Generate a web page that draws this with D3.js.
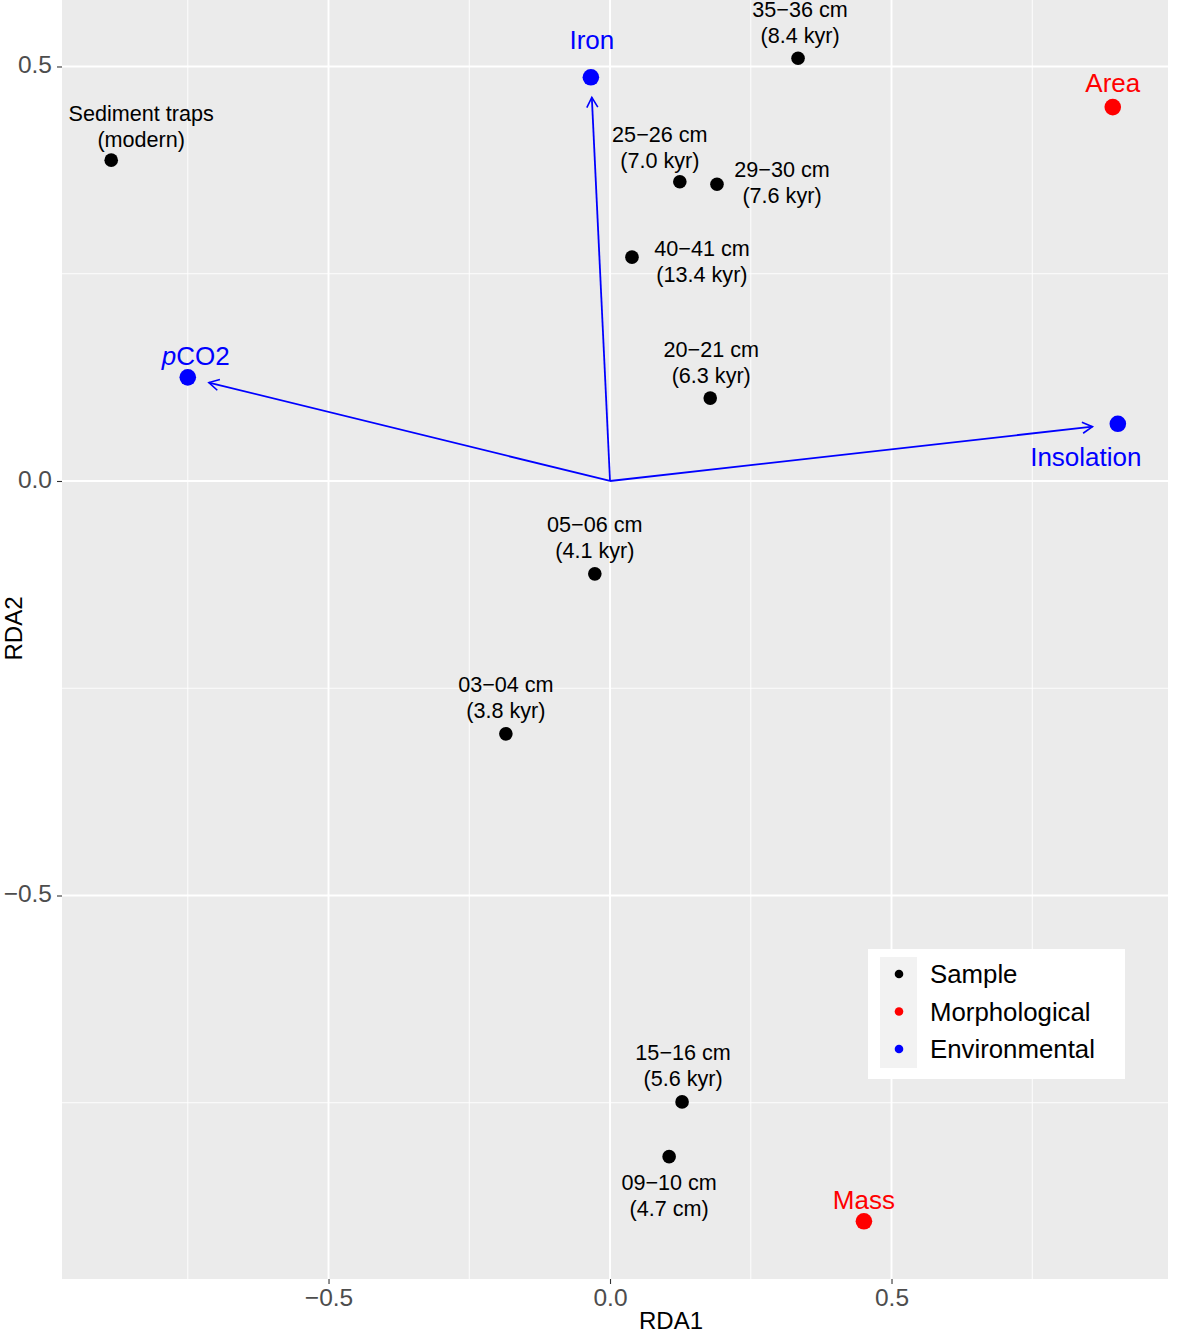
<!DOCTYPE html>
<html>
<head>
<meta charset="utf-8">
<script src="https://cdn.jsdelivr.net/npm/d3@7"></script>
<style>
  html, body { margin: 0; padding: 0; background: #fff; }
  svg { display: block; font-family: "Liberation Sans", Arial, sans-serif; }
</style>
</head>
<body>
<svg id="chart" width="1181" height="1336"></svg>
<script>
// ---------- data ----------
const sampleNames = ["Sediment traps\n(modern)", "35\u221236 cm\n(8.4 kyr)", "25\u221226 cm\n(7.0 kyr)", "29\u221230 cm\n(7.6 kyr)",
  "40\u221241 cm\n(13.4 kyr)", "20\u221221 cm\n(6.3 kyr)", "05\u221206 cm\n(4.1 kyr)", "03\u221204 cm\n(3.8 kyr)",
  "15\u221216 cm\n(5.6 kyr)", "09\u221210 cm\n(4.7 cm)"];
const sampleRDA1 = [-0.886, 0.334, 0.124, 0.190, 0.039, 0.178, -0.027, -0.185, 0.128, 0.105];
const sampleRDA2 = [0.387, 0.510, 0.361, 0.358, 0.270, 0.100, -0.112, -0.305, -0.749, -0.815];

const morphNames = ["Area", "Mass"];
const morphRDA1 = [0.893, 0.451];
const morphRDA2 = [0.451, -0.893];

const envNames = ["Iron", "pCO2", "Insolation"];
const envRDA1 = [-0.034, -0.750, 0.902];
const envRDA2 = [0.487, 0.125, 0.069];

const legendLabels = ["Sample", "Morphological", "Environmental"];
const xTicks = [-0.5, 0.0, 0.5];
const yTicks = [-0.5, 0.0, 0.5];
const xMinor = [-0.75, -0.25, 0.25, 0.75];
const yMinor = [-0.75, -0.25, 0.25];

// ---------- layout / style (not data) ----------
const panel = { left: 62, right: 1168, top: 0, bottom: 1279 };
const colors = { Sample: "#000000", Morphological: "#FF0000", Environmental: "#0000FF" };
const arrowShrink = 0.95;
// label offsets in pixels (center of first line relative to point)
const sampleLabelOffset = [[30,-47],[2,-49],[-20,-47],[65,-15],[70,-9],[1,-49],[0,-49],[0,-49],[1,-49],[0,26]];
const morphLabelOffset = [[0,-24],[0,-21]];
const envLabelOffset = [[1,-37],[8,-21],[-32,33]];

const svg = d3.select("#chart");
const x = d3.scaleLinear().domain([-0.9734, 0.9911]).range([panel.left, panel.right]);
const y = d3.scaleLinear().domain([-0.9626, 0.5802]).range([panel.bottom, panel.top]);

// panel background
svg.append("rect").attr("x", panel.left).attr("y", panel.top)
  .attr("width", panel.right - panel.left).attr("height", panel.bottom - panel.top)
  .attr("fill", "#EBEBEB");

const grid = svg.append("g");
grid.selectAll(".vmin").data(xMinor).join("line").attr("class","vmin")
  .attr("x1", d => x(d)).attr("x2", d => x(d)).attr("y1", panel.top).attr("y2", panel.bottom)
  .attr("stroke", "#fff").attr("stroke-width", 0.9);
grid.selectAll(".hmin").data(yMinor).join("line").attr("class","hmin")
  .attr("y1", d => y(d)).attr("y2", d => y(d)).attr("x1", panel.left).attr("x2", panel.right)
  .attr("stroke", "#fff").attr("stroke-width", 0.9);
grid.selectAll(".vmaj").data(xTicks).join("line").attr("class","vmaj")
  .attr("x1", d => x(d)).attr("x2", d => x(d)).attr("y1", panel.top).attr("y2", panel.bottom)
  .attr("stroke", "#fff").attr("stroke-width", 1.9);
grid.selectAll(".hmaj").data(yTicks).join("line").attr("class","hmaj")
  .attr("y1", d => y(d)).attr("y2", d => y(d)).attr("x1", panel.left).attr("x2", panel.right)
  .attr("stroke", "#fff").attr("stroke-width", 1.9);

const fmt = d => d3.format(".1f")(d).replace("-", "\u2212");

// axes
const xAxis = svg.append("g").attr("transform", `translate(0,${panel.bottom})`)
  .call(d3.axisBottom(x).tickValues(xTicks).tickSize(5).tickPadding(5).tickFormat(fmt));
xAxis.select(".domain").remove();
xAxis.selectAll("line").attr("stroke", "#333").attr("stroke-width", 1.1);
xAxis.selectAll("text").attr("fill", "#4D4D4D").attr("font-size", 24.5)
  .attr("font-family", "Liberation Sans, Arial, sans-serif");

const yAxis = svg.append("g").attr("transform", `translate(${panel.left},0)`)
  .call(d3.axisLeft(y).tickValues(yTicks).tickSize(5).tickPadding(5).tickFormat(fmt));
yAxis.select(".domain").remove();
yAxis.selectAll("line").attr("stroke", "#333").attr("stroke-width", 1.1);
yAxis.selectAll("text").attr("fill", "#4D4D4D").attr("font-size", 24.5)
  .attr("font-family", "Liberation Sans, Arial, sans-serif").attr("dy", "0.25em");

// axis titles
svg.append("text").attr("x", 671).attr("y", 1329).attr("text-anchor", "middle")
  .attr("font-size", 24).attr("fill", "#000").text("RDA1");
svg.append("text").attr("transform", `translate(22,${(panel.top + panel.bottom) / 2 - 11}) rotate(-90)`)
  .attr("text-anchor", "middle").attr("font-size", 24).attr("fill", "#000").text("RDA2");

// arrows
const defs = svg.append("defs");
defs.append("marker").attr("id", "arrowhead").attr("viewBox", "-12 -8 14 16")
  .attr("refX", 0).attr("refY", 0).attr("markerWidth", 14).attr("markerHeight", 16)
  .attr("markerUnits", "userSpaceOnUse").attr("orient", "auto")
  .append("path").attr("d", "M-10,-5.5 L0,0 L-10,5.5").attr("fill", "none")
  .attr("stroke", colors.Environmental).attr("stroke-width", 1.6);

const envData = envNames.map((n, i) => ({ name: n, x: envRDA1[i], y: envRDA2[i], off: envLabelOffset[i] }));
svg.append("g").selectAll("line").data(envData).join("line")
  .attr("x1", x(0)).attr("y1", y(0))
  .attr("x2", d => x(d.x * arrowShrink)).attr("y2", d => y(d.y * arrowShrink))
  .attr("stroke", colors.Environmental).attr("stroke-width", 1.8)
  .attr("marker-end", "url(#arrowhead)");

// sample points
const sampleData = sampleNames.map((n, i) => ({ name: n, x: sampleRDA1[i], y: sampleRDA2[i], off: sampleLabelOffset[i] }));
svg.append("g").selectAll("circle").data(sampleData).join("circle")
  .attr("cx", d => x(d.x)).attr("cy", d => y(d.y)).attr("r", 6.8).attr("fill", colors.Sample);

const sLabels = svg.append("g").selectAll("text").data(sampleData).join("text")
  .attr("text-anchor", "middle").attr("font-size", 21.6).attr("fill", "#000");
sLabels.each(function(d) {
  const lines = d.name.split("\n");
  const t = d3.select(this);
  lines.forEach((ln, k) => {
    t.append("tspan").attr("x", x(d.x) + d.off[0]).attr("y", y(d.y) + d.off[1] + k * 26 + 7.5).text(ln);
  });
});

// morphological points
const morphData = morphNames.map((n, i) => ({ name: n, x: morphRDA1[i], y: morphRDA2[i], off: morphLabelOffset[i] }));
svg.append("g").selectAll("circle").data(morphData).join("circle")
  .attr("cx", d => x(d.x)).attr("cy", d => y(d.y)).attr("r", 8.3).attr("fill", colors.Morphological);
svg.append("g").selectAll("text").data(morphData).join("text")
  .attr("x", d => x(d.x) + d.off[0]).attr("y", d => y(d.y) + d.off[1] + 9)
  .attr("text-anchor", "middle").attr("font-size", 26).attr("fill", colors.Morphological)
  .text(d => d.name);

// environmental points
svg.append("g").selectAll("circle").data(envData).join("circle")
  .attr("cx", d => x(d.x)).attr("cy", d => y(d.y)).attr("r", 8.3).attr("fill", colors.Environmental);
const eLabels = svg.append("g").selectAll("text").data(envData).join("text")
  .attr("x", d => x(d.x) + d.off[0]).attr("y", d => y(d.y) + d.off[1] + 9)
  .attr("text-anchor", "middle").attr("font-size", 26).attr("fill", colors.Environmental);
eLabels.each(function(d) {
  const t = d3.select(this);
  if (d.name === "pCO2") {
    t.append("tspan").attr("font-style", "italic").text("p");
    t.append("tspan").text("CO2");
  } else {
    t.text(d.name);
  }
});

// legend
const lg = svg.append("g");
lg.append("rect").attr("x", 868).attr("y", 949).attr("width", 257).attr("height", 130).attr("fill", "#fff");
lg.append("rect").attr("x", 880).attr("y", 957).attr("width", 37).attr("height", 111).attr("fill", "#F2F2F2");
const legendY = d3.scalePoint().domain(legendLabels).range([974, 1049]);
lg.selectAll("circle").data(legendLabels).join("circle")
  .attr("cx", 899).attr("cy", d => legendY(d)).attr("r", 4.3).attr("fill", d => colors[d]);
lg.selectAll("text").data(legendLabels).join("text")
  .attr("x", 930).attr("y", d => legendY(d) + 9).attr("font-size", 25.8).attr("fill", "#000")
  .text(d => d);
</script>
</body>
</html>
